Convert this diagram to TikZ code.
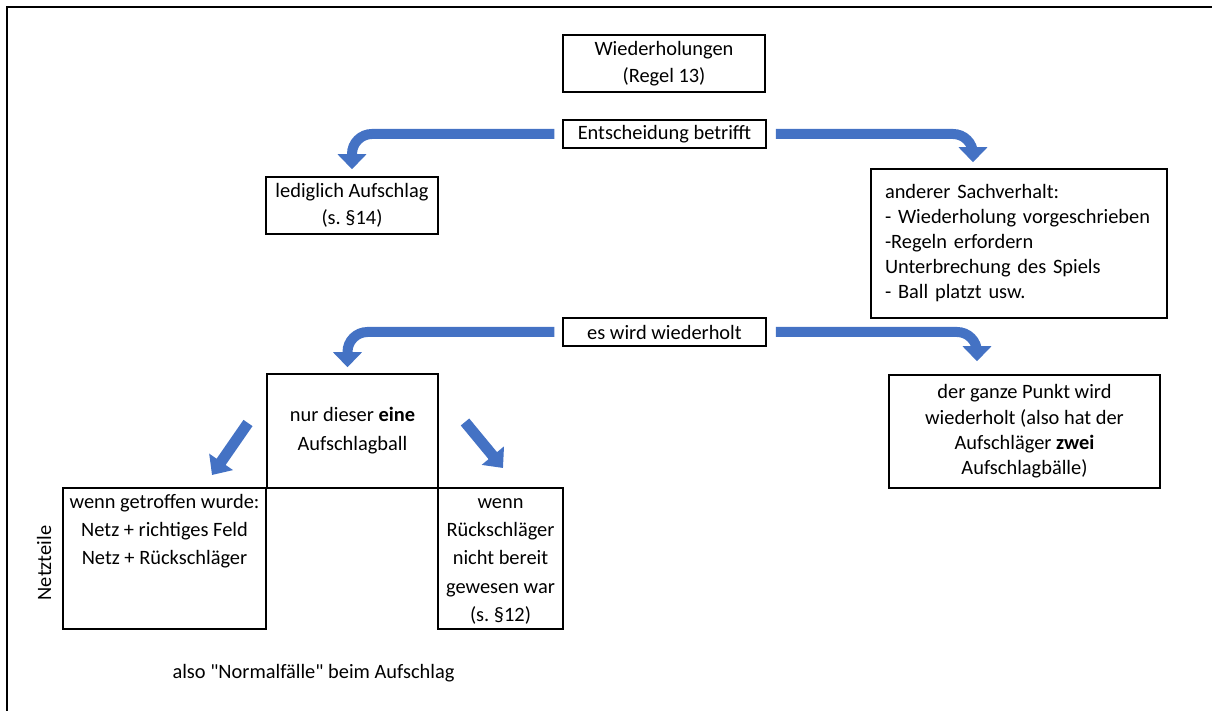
\documentclass[tikz,border=0pt]{standalone}
\usepackage{fontspec}
\setmainfont{Carlito}
\newfontfamily\plainq{Carlito}
\usetikzlibrary{arrows.meta}
\definecolor{arrowblue}{HTML}{4472C4}
\frenchspacing
\begin{document}
\begin{tikzpicture}[x=0.5pt,y=-0.5pt,
  box/.style={draw=black, line width=0.75pt, inner sep=0pt, align=center,
    font=\fontsize{10.2}{13.5}\selectfont},
  txt/.style={inner sep=0pt, align=center, font=\fontsize{10.2}{14}\selectfont},
  bigarrow/.style={draw=arrowblue, line width=5pt, rounded corners=10pt,
    -{Triangle[width=14pt,length=7.5pt]}},
  diagarrow/.style={draw=arrowblue, line width=5.5pt,
    -{Triangle[width=14pt,length=8pt]}}]
\useasboundingbox (0,0) rectangle (1212,711);
% frame
\draw[line width=1pt] (7,711) -- (7,7) -- (1212,7);
% nodes
\node[box, minimum width=101pt, minimum height=28.5pt] (wdh) at (664,63.5)
  {Wiederholungen\\(Regel 13)};
\node[box, minimum width=101.5pt, minimum height=14pt] (ent) at (664.5,134)
  {Entscheidung betrifft};
\node[box, minimum width=86pt, minimum height=28.5pt] (led) at (352,205.5)
  {lediglich Aufschlag\\(s. §14)};
\node[box, minimum height=74.5pt, text width=134pt, inner xsep=7pt, align=left,
  font=\fontsize{10.2}{12.5}\selectfont] (and) at (1019,243.5)
  {anderer Sachverhalt:\\- Wiederholung vorgeschrieben\\-Regeln erfordern\\Unterbrechung des Spiels\\- Ball platzt usw.};
\node[box, minimum width=101.5pt, minimum height=14pt] (es) at (664.5,332)
  {es wird wiederholt};
\node[box, minimum width=135.5pt, minimum height=56.5pt,
  font=\fontsize{10.2}{12.7}\selectfont] (gz) at (1024.5,431.5)
  {der ganze Punkt wird\\wiederholt (also hat der\\Aufschläger \textbf{zwei}\\Aufschlagbälle)};
\node[box, minimum width=85.5pt, minimum height=57pt,
  font=\fontsize{10.2}{14.5}\selectfont] (nur) at (352.5,431)
  {nur dieser \textbf{eine}\\Aufschlagball};
\node[box, minimum width=101.5pt, minimum height=70.5pt] (lb) at (164.5,558.5) {};
\node[box, minimum width=62.5pt, minimum height=70.5pt] (rb) at (500.5,558.5) {};
\node[txt, anchor=north] (lbt) at ([yshift=-0.6pt]lb.north)
  {\strut wenn getroffen wurde:\\Netz + richtiges Feld\\Netz + Rückschläger};
\node[txt, anchor=north, font=\fontsize{10.2}{14.1}\selectfont] (rbt) at ([yshift=-0.6pt]rb.north)
  {\strut wenn\\Rückschläger\\nicht bereit\\gewesen war\\(s. §12)};
\node[txt, rotate=90] (nt) at (44,563) {Netzteile};
\node[txt] (nf) at (313.5,673) {also {\plainq"}Normalfälle{\plainq"} beim Aufschlag};
% connectors
\draw[bigarrow, shorten <=4pt, shorten >=3.5pt] (ent.west) -| (led.north);
\draw[bigarrow, shorten <=4.5pt] (ent.east) -| ([xshift=-23pt,yshift=3pt]and.north);
\draw[bigarrow, shorten <=4pt, shorten >=3pt] (es.west) -| ([xshift=-2.5pt]nur.north);
\draw[bigarrow, shorten <=4.5pt] (es.east) -| ([xshift=-23.75pt,yshift=6.5pt]gz.north);
\coordinate (d1s) at (248,423);
\coordinate (d1e) at (212,475);
\coordinate (d2s) at (465,422);
\coordinate (d2e) at (503,468);
\draw[diagarrow] (d1s) -- (d1e);
\draw[diagarrow] (d2s) -- (d2e);
\end{tikzpicture}
\end{document}
